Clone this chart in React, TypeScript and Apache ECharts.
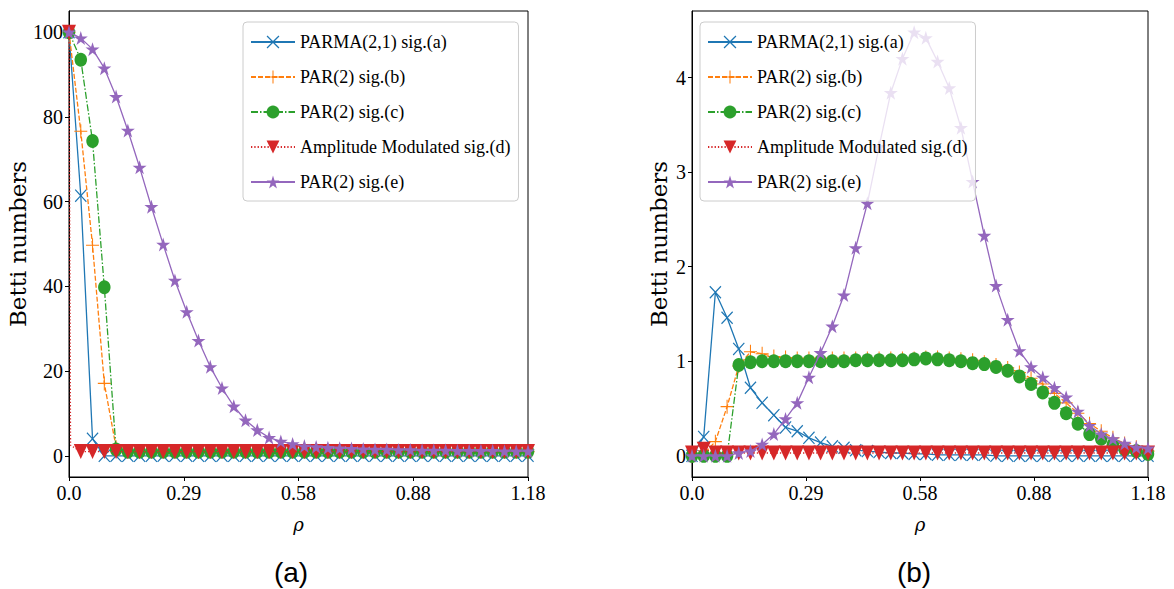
import React, { useEffect, useRef } from "react";
import * as echarts from "echarts";

// sampling grid of rho (40 samples between 0 and 1.18)
const rho = [
  0, 0.0303, 0.0605, 0.0908, 0.121, 0.1513, 0.1815, 0.2118, 0.2421, 0.2723,
  0.3026, 0.3328, 0.3631, 0.3933, 0.4236, 0.4538, 0.4841, 0.5144, 0.5446, 0.5749,
  0.6051, 0.6354, 0.6656, 0.6959, 0.7262, 0.7564, 0.7867, 0.8169, 0.8472, 0.8774,
  0.9077, 0.9379, 0.9682, 0.9985, 1.0287, 1.059, 1.0892, 1.1195, 1.1497, 1.18,
];

const seriesNames = [
  "PARMA(2,1) sig.(a)",
  "PAR(2) sig.(b)",
  "PAR(2) sig.(c)",
  "Amplitude Modulated sig.(d)",
  "PAR(2) sig.(e)",
];

// ----- panel (a) -----
const aLeft = [
  100, 61.4, 4, 0, 0, 0, 0, 0, 0, 0,
  0, 0, 0, 0, 0, 0, 0, 0, 0, 0,
  0, 0, 0, 0, 0, 0, 0, 0, 0, 0,
  0, 0, 0, 0, 0, 0, 0, 0, 0, 0,
];
const bLeft = [
  100, 76.6, 49.7, 17.1, 2, 1, 1, 1, 1, 1,
  1, 1, 1, 1, 1, 1, 1, 1, 1, 1,
  1, 1, 1, 1, 1, 1, 1, 1, 1, 1,
  1, 1, 1, 1, 1, 1, 1, 1, 1, 1,
];
const cLeft = [
  100, 93.5, 74.3, 39.8, 1.5, 1, 1, 1, 1, 1,
  1, 1, 1, 1, 1, 1, 1, 1, 1, 1,
  1, 1, 1, 1, 1, 1, 1, 1, 1, 1,
  1, 1, 1, 1, 1, 1, 1, 1, 1, 1,
];
const dLeft = [
  100, 1, 1, 1, 1, 1, 1, 1, 1, 1,
  1, 1, 1, 1, 1, 1, 1, 1, 1, 1,
  1, 1, 1, 1, 1, 1, 1, 1, 1, 1,
  1, 1, 1, 1, 1, 1, 1, 1, 1, 1,
];
// steep drop of sig.(d) right at the start (unmarked sample)
const dLeftDrop = [0.004, 2.5];
const eLeft = [
  100, 98.6, 96, 91.5, 84.8, 76.8, 68.1, 58.8, 49.9, 41.4,
  34, 27.2, 21, 16, 11.7, 8.4, 6.1, 4.3, 3.4, 2.8,
  2.3, 2.1, 1.9, 1.8, 1.7, 1.6, 1.5, 1.5, 1.4, 1.4,
  1.3, 1.3, 1.3, 1.2, 1.2, 1.2, 1.2, 1.1, 1.1, 1.1,
];

// ----- panel (b) -----
const aRight = [
  0, 0.2, 1.73, 1.46, 1.13, 0.72, 0.56, 0.43, 0.3, 0.26,
  0.19, 0.14, 0.1, 0.085, 0.06, 0.05, 0.04, 0.03, 0.03, 0.02,
  0.02, 0.01, 0.01, 0.01, 0.01, 0.01, 0, 0, 0, 0,
  0, 0, 0, 0, 0, 0, 0, 0, 0, 0,
];
const bRight = [
  0, 0.02, 0.15, 0.52, 0.95, 1.1, 1.08, 1.05, 1.04, 1.03,
  1.03, 1.03, 1.03, 1.03, 1.03, 1.03, 1.03, 1.03, 1.03, 1.03,
  1.04, 1.04, 1.03, 1.02, 1.01, 0.99, 0.96, 0.93, 0.88, 0.82,
  0.76, 0.66, 0.56, 0.45, 0.34, 0.26, 0.19, 0.13, 0.09, 0.05,
];
const cRight = [
  0, 0, 0, 0, 0.96, 0.99, 1.0, 1.0, 1.0, 1.0,
  1.0, 1.0, 1.0, 1.0, 1.01, 1.01, 1.01, 1.01, 1.01, 1.02,
  1.03, 1.02, 1.01, 1.0, 0.98, 0.97, 0.94, 0.9, 0.84, 0.76,
  0.67, 0.56, 0.45, 0.34, 0.23, 0.18, 0.12, 0.07, 0.05, 0.02,
];
const dRight = [
  0.03, 0.07, 0.03, 0.03, 0.03, 0.03, 0.03, 0.03, 0.03, 0.03,
  0.03, 0.03, 0.03, 0.03, 0.03, 0.03, 0.03, 0.03, 0.03, 0.03,
  0.03, 0.03, 0.03, 0.03, 0.03, 0.03, 0.03, 0.03, 0.03, 0.03,
  0.03, 0.03, 0.03, 0.03, 0.03, 0.03, 0.03, 0.03, 0.03, 0.03,
];
const eRight = [
  0, 0, 0, 0, 0.03, 0.05, 0.12, 0.23, 0.39, 0.56,
  0.83, 1.09, 1.37, 1.7, 2.2, 2.67, 3.27, 3.84, 4.2, 4.48,
  4.42, 4.17, 3.89, 3.47, 2.9, 2.33, 1.8, 1.44, 1.11, 0.94,
  0.83, 0.72, 0.62, 0.47, 0.32, 0.23, 0.18, 0.13, 0.09, 0.08,
];

// ticks
const xTickValues = [0, 0.295, 0.59, 0.885, 1.18];
const xTickLabels = ["0.0", "0.29", "0.58", "0.88", "1.18"];
const yTicksLeft = [0, 20, 40, 60, 80, 100];
const yTicksRight = [0, 1, 2, 3, 4];

const X_PATH =
  "path://M0,1.4L1.4,0L10,8.6L18.6,0L20,1.4L11.4,10L20,18.6L18.6,20L10,11.4L1.4,20L0,18.6L8.6,10Z";
const PLUS_PATH =
  "path://M9.2,0H10.8V9.2H20V10.8H10.8V20H9.2V10.8H0V9.2H9.2Z";
const STAR_PATH =
  "path://M10,0L12.245,6.91L19.511,6.91L13.633,11.18L15.878,18.09L10,13.82L4.122,18.09L6.367,11.18L0.489,6.91L7.755,6.91Z";

const styles = [
  { color: "#1f77b4", symbol: X_PATH, size: [12, 13], rotate: 0, dash: "solid" as any },
  { color: "#ff7f0e", symbol: PLUS_PATH, size: [13, 14], rotate: 0, dash: [5, 2] as any },
  { color: "#2ca02c", symbol: "circle", size: [12.5, 14], rotate: 0, dash: [7, 2, 1.5, 2] as any },
  { color: "#d62728", symbol: "triangle", size: [14, 15], rotate: 180, dash: [1.3, 2] as any },
  { color: "#9467bd", symbol: STAR_PATH, size: [14, 14], rotate: 0, dash: "solid" as any },
];

function makeSeries(k: number, grid: number, data: any[]) {
  const s = styles[k];
  return {
    type: "line",
    name: seriesNames[k],
    xAxisIndex: grid,
    yAxisIndex: grid,
    data,
    symbol: s.symbol,
    symbolSize: s.size,
    symbolRotate: s.rotate,
    showSymbol: true,
    smooth: false,
    lineStyle: { color: s.color, width: 1.3, type: s.dash },
    itemStyle: { color: s.color },
    emphasis: { disabled: true },
    z: 2 + k * 0.01,
  };
}

const pairs = (ys: number[]) => ys.map((y, i) => [rho[i], y]);

const serif = "Liberation Serif";

function xAxisCfg(grid: number) {
  return {
    type: "value",
    gridIndex: grid,
    min: 0,
    max: 1.18,
    axisLine: { show: true, onZero: false, lineStyle: { color: "#000", width: 1 } },
    axisTick: { show: true, inside: false, length: 4, lineStyle: { color: "#000" }, customValues: xTickValues },
    axisLabel: {
      customValues: xTickValues,
      formatter: (v: number) => {
        const i = xTickValues.findIndex((t) => Math.abs(t - v) < 1e-6);
        return i >= 0 ? xTickLabels[i] : "";
      },
      fontFamily: serif,
      fontSize: 20,
      color: "#000",
      margin: 6,
    },
    splitLine: { show: false },
    name: "ρ",
    nameLocation: "middle",
    nameGap: 38,
    nameTextStyle: { fontFamily: "DejaVu Serif", fontStyle: "italic", fontSize: 18, color: "#000" },
  };
}

function yAxisCfg(grid: number, min: number, max: number, ticks: number[], gap: number) {
  return {
    type: "value",
    gridIndex: grid,
    min,
    max,
    axisLine: { show: true, onZero: false, lineStyle: { color: "#000", width: 1 } },
    axisTick: { show: true, inside: false, length: 4, lineStyle: { color: "#000" }, customValues: ticks },
    axisLabel: {
      customValues: ticks,
      formatter: (v: number) => String(v),
      fontFamily: serif,
      fontSize: 20,
      color: "#000",
      margin: 6,
    },
    splitLine: { show: false },
    name: "Betti numbers",
    nameLocation: "middle",
    nameRotate: 90,
    nameGap: gap,
    nameTextStyle: { fontFamily: "DejaVu Serif", fontSize: 23, color: "#000" },
  };
}

function legendCfg(left: number) {
  return {
    show: true,
    orient: "vertical",
    align: "left",
    left,
    top: 22,
    data: seriesNames,
    itemWidth: 44,
    itemHeight: 16,
    itemGap: 17,
    padding: [11, 8, 10, 7],
    backgroundColor: "rgba(255,255,255,0.8)",
    borderColor: "#cccccc",
    borderWidth: 1,
    borderRadius: 4,
    textStyle: { fontFamily: serif, fontSize: 18, color: "#000" },
    selectedMode: false,
    z: 10,
  };
}

export default function App() {
  const ref = useRef<HTMLDivElement>(null);
  useEffect(() => {
    if (!ref.current) return;
    const chart = echarts.init(ref.current, undefined, { renderer: "svg" });
    const redLeftData: any[] = pairs(dLeft);
    redLeftData.splice(1, 0, { value: dLeftDrop, symbol: "none" });
    const option: any = {
      animation: false,
      backgroundColor: "#fff",
      grid: [
        { left: 69, top: 11, width: 459, height: 466, show: true, borderColor: "#000", borderWidth: 1, backgroundColor: "transparent" },
        { left: 692, top: 11, width: 456, height: 466, show: true, borderColor: "#000", borderWidth: 1, backgroundColor: "transparent" },
      ],
      xAxis: [xAxisCfg(0), xAxisCfg(1)],
      yAxis: [
        yAxisCfg(0, -5, 105, yTicksLeft, 38),
        yAxisCfg(1, -0.224, 4.704, yTicksRight, 22),
      ],
      legend: [legendCfg(243), legendCfg(700)],
      series: [
        makeSeries(0, 0, pairs(aLeft)),
        makeSeries(1, 0, pairs(bLeft)),
        makeSeries(2, 0, pairs(cLeft)),
        makeSeries(3, 0, redLeftData),
        makeSeries(4, 0, pairs(eLeft)),
        makeSeries(0, 1, pairs(aRight)),
        makeSeries(1, 1, pairs(bRight)),
        makeSeries(2, 1, pairs(cRight)),
        makeSeries(3, 1, pairs(dRight)),
        makeSeries(4, 1, pairs(eRight)),
      ],
      graphic: [
        {
          type: "text",
          x: 291,
          y: 572,
          style: { text: "(a)", fontFamily: "Liberation Sans", fontSize: 28, fill: "#000", align: "center", verticalAlign: "middle" },
        },
        {
          type: "text",
          x: 914,
          y: 572,
          style: { text: "(b)", fontFamily: "Liberation Sans", fontSize: 28, fill: "#000", align: "center", verticalAlign: "middle" },
        },
      ],
    };
    chart.setOption(option);
    return () => chart.dispose();
  }, []);
  return (
    <div
      ref={ref}
      style={{ position: "absolute", left: 0, top: 0, width: 1174, height: 589, background: "#fff" }}
    />
  );
}
